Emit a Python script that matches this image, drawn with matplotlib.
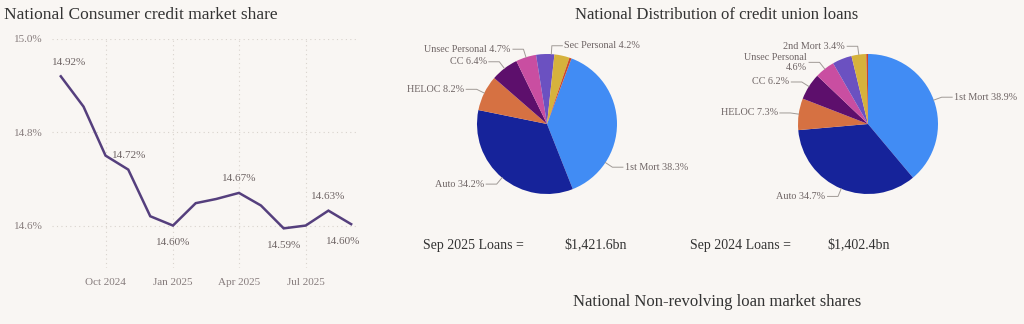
import numpy as np
import pandas as pd
import matplotlib
matplotlib.use("Agg")
import matplotlib.pyplot as plt
import matplotlib.dates as mdates
from matplotlib.ticker import FuncFormatter

# data
months = pd.date_range("2024-08-01", periods=14, freq="MS")
share = [14.92, 14.855, 14.75, 14.72, 14.62, 14.60, 14.648, 14.657, 14.67,
         14.643, 14.594, 14.60, 14.632, 14.603]
labelled = [0, 3, 5, 8, 10, 12, 13]

slice_names = ["1st Mort", "Auto", "HELOC", "CC", "Unsec Personal",
               "Sec Personal", "2nd Mort", "Other"]
sep25 = [38.3, 34.2, 8.2, 6.4, 4.7, 4.2, 3.5, 0.5]
sep24 = [38.9, 34.7, 7.3, 6.2, 4.6, 4.5, 3.4, 0.4]
show25 = [True, True, True, True, True, True, False, False]
show24 = [True, True, True, True, True, False, True, False]
total25 = "$1,421.6bn"
total24 = "$1,402.4bn"

# styling
bg = "#f9f6f3"
slice_colors = ["#418cf4", "#16239a", "#d67142", "#5d0f6c", "#c94ea1",
                "#6b51c1", "#d6b23c", "#c9492b"]
plt.rcParams["font.family"] = ["Liberation Serif", "DejaVu Serif"]
W, H = 1024, 324

fig = plt.figure(figsize=(10.24, 3.24), dpi=100, facecolor=bg)

# ---- line chart
ax = fig.add_axes([52 / W, (H - 268) / H, 305 / W, (268 - 39) / H])
ax.set_facecolor(bg)
ax.plot(months, share, color="#553f7d", lw=1.8, solid_joinstyle="miter")
ax.set_ylim(14.509, 15.0)
ax.set_xlim(pd.Timestamp("2024-07-20"), pd.Timestamp("2025-09-09"))
ax.set_yticks([14.6, 14.8, 15.0])
ax.yaxis.set_major_formatter(FuncFormatter(lambda v, p: f"{v:.1f}%"))
ax.xaxis.set_major_locator(mdates.MonthLocator(bymonth=[1, 4, 7, 10]))
ax.xaxis.set_major_formatter(mdates.DateFormatter("%b %Y"))
ax.grid(True, color="#d9d3cd", lw=0.8, ls=(0, (1, 3)))
ax.set_axisbelow(True)
for s in ax.spines.values():
    s.set_visible(False)
ax.tick_params(axis="x", length=0, pad=7, labelsize=8, labelcolor="#867c7c")
ax.tick_params(axis="y", length=0, pad=6.5, labelsize=8, labelcolor="#867c7c")

offsets = {0: (6, 7), 3: (1, 7), 5: (0, -9), 8: (0, 7), 10: (0, -9),
           12: (0, 7), 13: (-6, -9)}
for i in labelled:
    dx, dy = offsets[i]
    ax.annotate(f"{share[i]:.2f}%", (months[i], share[i]), xytext=(dx, dy),
                textcoords="offset points", ha="center",
                va="bottom" if dy > 0 else "top", fontsize=8, color="#6e6464")

fig.text(4 / W, 1 - 15 / H, "National Consumer credit market share",
         fontsize=12.5, color="#333333", va="center", ha="left")


# ---- pies
def draw_pie(cx, cy, vals, show, start, shift, r=70):
    pax = fig.add_axes([(cx - r) / W, (H - cy - r) / H, 2 * r / W, 2 * r / H])
    wedges, _ = pax.pie(vals, colors=slice_colors, startangle=start,
                        counterclock=False, radius=1,
                        wedgeprops=dict(lw=0))
    pax.set_xlim(-1, 1)
    pax.set_ylim(-1, 1)
    pax.set_aspect("auto")
    for k, w in enumerate(wedges):
        if not show[k]:
            continue
        a = np.deg2rad((w.theta1 + w.theta2) / 2 + shift.get(k, 0))
        c, s = np.cos(a), np.sin(a)
        sign = 1 if c >= 0 else -1
        x1, y1 = 1.12 * c, 1.12 * s
        x2 = x1 + sign * 0.15
        pax.plot([c, x1, x2], [s, y1, y1], color="#a09a96", lw=0.7,
                 clip_on=False)
        name = slice_names[k]
        txt = f"{name} {vals[k]}%"
        if name == "Unsec Personal" and not show[5]:
            txt = f"{name}\n{vals[k]}%"
        pax.text(x2 + sign * 0.03, y1, txt, ha="left" if sign > 0 else "right",
                 va="center", fontsize=7.3, color="#6e6464",
                 multialignment="right", linespacing=1.05)


draw_pie(547, 124, sep25, show25, 69.5, {0: -34, 5: -5})
draw_pie(868, 124, sep24, show24, 90, {})

fig.text(717 / W, 1 - 15 / H, "National Distribution of credit union loans",
         fontsize=12, color="#333333", ha="center", va="center")
fig.text(423 / W, 1 - 245 / H, "Sep 2025 Loans =", fontsize=10,
         color="#333333", va="center")
fig.text(564 / W, 1 - 245 / H, total25, fontsize=10, color="#333333",
         va="center")
fig.text(690 / W, 1 - 245 / H, "Sep 2024 Loans =", fontsize=10,
         color="#333333", va="center")
fig.text(827 / W, 1 - 245 / H, total24, fontsize=10, color="#333333",
         va="center")
fig.text(717 / W, 1 - 302 / H, "National Non-revolving loan market shares",
         fontsize=12, color="#333333", ha="center", va="center")

fig.savefig("out.png", dpi=100, facecolor=bg)
